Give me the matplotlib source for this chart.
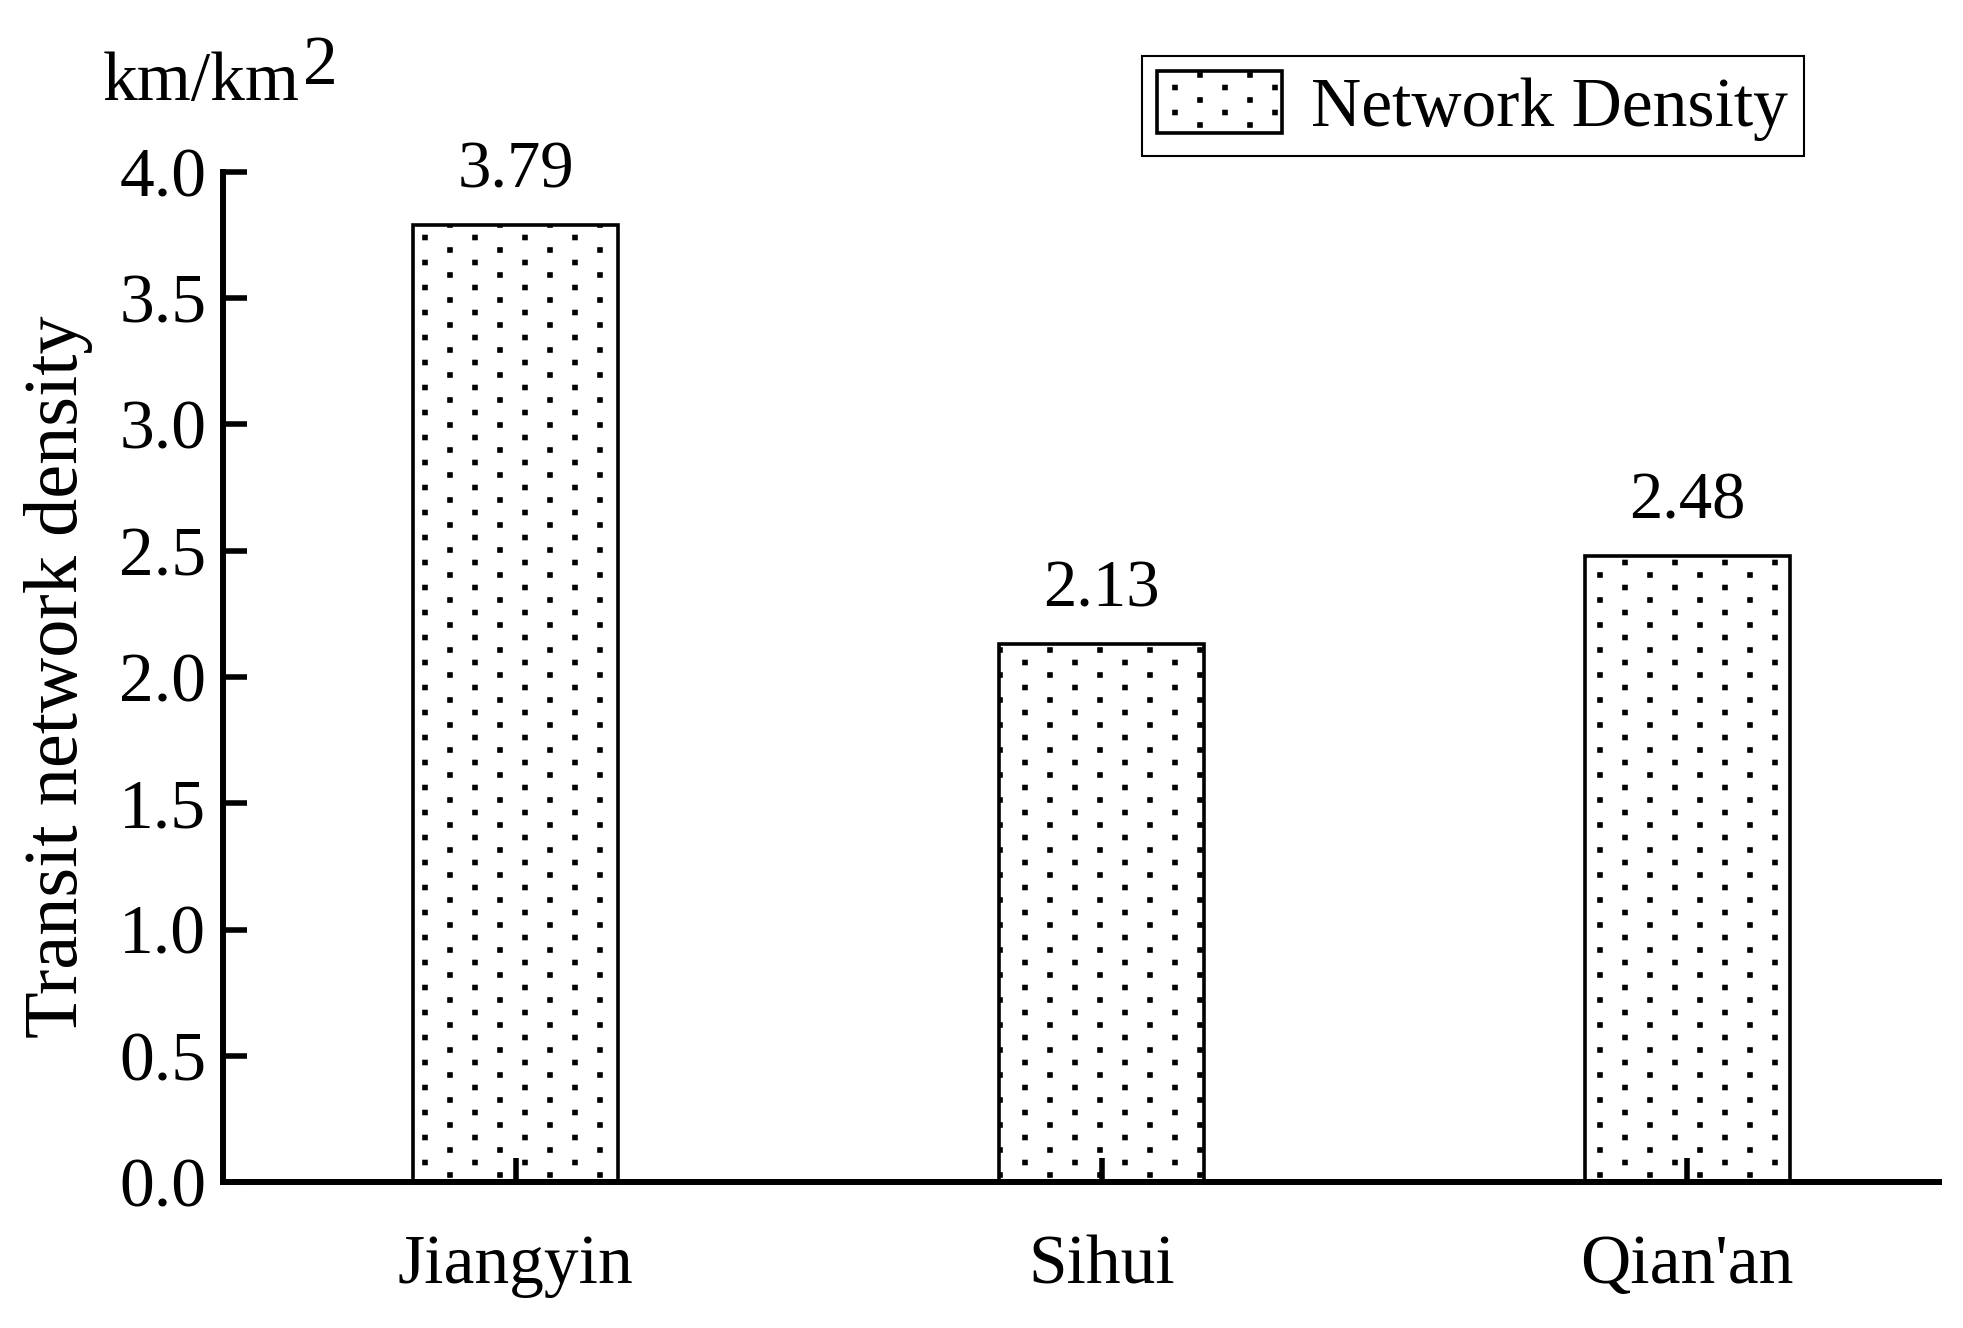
import matplotlib
matplotlib.use("Agg")
import matplotlib.pyplot as plt
import matplotlib.hatch as mhatch
from matplotlib.path import Path
import numpy as np

categories = ["Jiangyin", "Sihui", "Qian'an"]
values = [3.79, 2.13, 2.48]
value_labels = ["3.79", "2.13", "2.48"]
yticks = [0.0, 0.5, 1.0, 1.5, 2.0, 2.5, 3.0, 3.5, 4.0]
series_name = "Network Density"
unit_base = "km/km"
unit_exp = "2"
ylabel = "Transit network density"


# Custom staggered square-dot hatch, replacing the '.' hatch
class StaggeredDots(mhatch.HatchPatternBase):
    filled = True

    def __init__(self, hatch, density):
        self.on = hatch.count('.') > 0
        self.centers = []
        if self.on:
            nrows = 8
            for r in range(nrows + 1):
                y = r / nrows
                xs = [0.0, 0.5, 1.0] if r % 2 == 0 else [0.25, 0.75]
                for x in xs:
                    self.centers.append((x, y))
        self.num_vertices = len(self.centers) * 5

    def set_vertices_and_codes(self, vertices, codes):
        s = 0.021
        i = 0
        for (x, y) in self.centers:
            vertices[i:i + 5] = [(x - s, y - s), (x + s, y - s), (x + s, y + s),
                                 (x - s, y + s), (x - s, y - s)]
            codes[i:i + 5] = [Path.MOVETO, Path.LINETO, Path.LINETO,
                              Path.LINETO, Path.CLOSEPOLY]
            i += 5


mhatch._hatch_types = [t for t in mhatch._hatch_types
                       if t is not mhatch.SmallFilledCircles] + [StaggeredDots]

plt.rcParams['font.family'] = ['Liberation Serif', 'DejaVu Serif']
plt.rcParams['hatch.linewidth'] = 1.0

fig = plt.figure(figsize=(19.63, 13.28), dpi=100)
ax = fig.add_axes([0.1136, 0.1099, 0.9878 - 0.1136, 0.8705 - 0.1099])

x = np.arange(len(categories))
bars = ax.bar(x, values, width=0.35, color='white', edgecolor='black',
              linewidth=2.6, hatch='.', label=series_name, zorder=1)

for xi, v, lab in zip(x, values, value_labels):
    ax.annotate(lab, (xi, v), xytext=(0, 17), textcoords='offset points',
                ha='center', va='bottom', fontsize=48)

ax.set_xlim(-0.5, 2.43)
ax.set_ylim(0, 4.0)
ax.set_yticks(yticks)
ax.set_yticklabels([f"{t:.1f}" for t in yticks])
ax.set_xticks(x)
ax.set_xticklabels(categories)

for side in ['top', 'right']:
    ax.spines[side].set_visible(False)
for side in ['left', 'bottom']:
    ax.spines[side].set_linewidth(4.3)
    ax.spines[side].set_capstyle('projecting')

ax.tick_params(axis='both', direction='in', length=17, width=4.0,
               labelsize=50)
ax.tick_params(axis='y', pad=12)
ax.tick_params(axis='x', pad=38)

ax.set_ylabel(ylabel, fontsize=55, labelpad=19)

t_unit = fig.text(103 / 1963, 1 - 100 / 1328, unit_base, fontsize=50,
                  ha='left', va='baseline')
fig.canvas.draw()
ax.annotate(unit_exp, xy=(1, 0), xycoords=t_unit, xytext=(2, 22),
            textcoords='offset points', fontsize=50, ha='left', va='baseline')

leg = ax.legend(loc='upper left', bbox_to_anchor=(1142 / 1963, 1 - 56 / 1328),
                bbox_transform=fig.transFigure, fontsize=50, frameon=True,
                fancybox=False, edgecolor='black', framealpha=1,
                handlelength=1.8, handleheight=1.0, borderpad=0.22,
                handletextpad=0.42, borderaxespad=0)
leg.get_frame().set_linewidth(1.5)

fig.savefig("out.png", dpi=100)
